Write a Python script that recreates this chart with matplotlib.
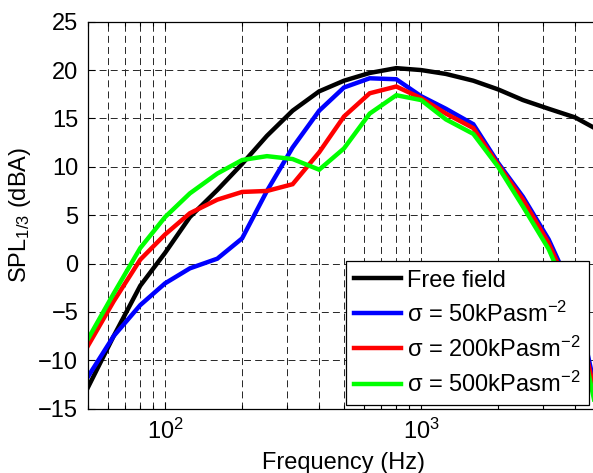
import numpy as np
import matplotlib
matplotlib.use('Agg')
import matplotlib.pyplot as plt
from matplotlib.ticker import FixedLocator, LogLocator, NullFormatter

# third-octave band centres (Hz)
freq = [50, 63, 80, 100, 125, 160, 200, 250, 315, 400, 500,
        630, 800, 1000, 1250, 1600, 2000, 2500, 3150, 4000, 5000]

# SPL per band (dBA)
free_field = [-12.8, -7.5, -2.3, 1.1, 4.8, 7.6, 10.3, 13.2, 15.8, 17.8, 18.9,
              19.7, 20.2, 20.0, 19.6, 18.9, 18.0, 16.9, 16.0, 15.1, 13.7]
sigma_50 = [-11.7, -7.5, -4.3, -2.05, -0.5, 0.5, 2.6, 7.5, 12.0, 15.8, 18.2,
            19.15, 19.05, 17.3, 16.0, 14.4, 10.4, 6.9, 2.5, -3.5, -15.2]
sigma_200 = [-8.5, -3.9, 0.4, 3.0, 5.2, 6.6, 7.4, 7.5, 8.2, 11.5, 15.2,
             17.6, 18.3, 17.1, 15.5, 14.0, 10.2, 6.6, 2.1, -4.0, -16.0]
sigma_500 = [-7.8, -3.1, 1.6, 4.8, 7.25, 9.3, 10.7, 11.1, 10.8, 9.7, 11.9,
             15.5, 17.4, 16.9, 14.9, 13.4, 10.0, 5.9, 1.5, -4.8, -17.0]

labels = ['Free field',
          r'$\sigma$ = 50kPasm$^{-2}$',
          r'$\sigma$ = 200kPasm$^{-2}$',
          r'$\sigma$ = 500kPasm$^{-2}$']
colors = ['#000000', '#0000ff', '#ff0000', '#00ff00']

plt.rcParams['font.family'] = 'Liberation Sans'
plt.rcParams['mathtext.fontset'] = 'custom'
plt.rcParams['mathtext.rm'] = 'Liberation Sans'
plt.rcParams['mathtext.it'] = 'Liberation Sans'
plt.rcParams['mathtext.sf'] = 'Liberation Sans'
plt.rcParams['lines.scale_dashes'] = False

fig = plt.figure(figsize=(5.93, 4.73), dpi=100)
# axes runs past the right edge of the canvas (x up to 5 kHz)
ax = fig.add_axes([88 / 593, 64.4 / 473, 512 / 593, 386.9 / 473])

for y, c, lab in zip([free_field, sigma_50, sigma_200, sigma_500], colors, labels):
    ax.plot(freq, y, color=c, lw=3.2, label=lab, solid_joinstyle='miter')

ax.set_xscale('log')
ax.set_xlim(50, 5000)
ax.set_ylim(-15, 25)
ax.yaxis.set_major_locator(FixedLocator(np.arange(-15, 26, 5)))
ax.xaxis.set_major_locator(LogLocator(base=10))
ax.xaxis.set_minor_locator(LogLocator(base=10, subs=np.arange(2, 10)))
ax.xaxis.set_minor_formatter(NullFormatter())

# dashed grid, minor lines on x only
gstyle = dict(color='0.15', linestyle=(0, (5, 3)), linewidth=0.7)
ax.grid(which='major', axis='both', **gstyle)
ax.grid(which='minor', axis='x', **gstyle)
ax.set_axisbelow(True)

ax.tick_params(which='both', direction='in', top=True, right=True,
               labelsize=17, width=0.8, colors='k')
ax.tick_params(which='major', length=5, pad=7)
ax.tick_params(which='minor', length=3)
for s in ax.spines.values():
    s.set_linewidth(0.9)

ax.set_xlabel('Frequency (Hz)', fontsize=17, labelpad=6)
ax.set_ylabel(r'SPL$_{1/3}$ (dBA)', fontsize=17, labelpad=4)

leg = ax.legend(loc='lower right', bbox_to_anchor=(0.9785, 0.009),
                fontsize=17, frameon=True, fancybox=False, framealpha=1,
                edgecolor='k', handlelength=2.0, handletextpad=0.25,
                labelspacing=0.42, borderpad=0.35, borderaxespad=0)
leg.get_frame().set_linewidth(0.9)
for h in leg.get_lines():
    h.set_linewidth(3.2)

fig.savefig('out.png', dpi=100)
